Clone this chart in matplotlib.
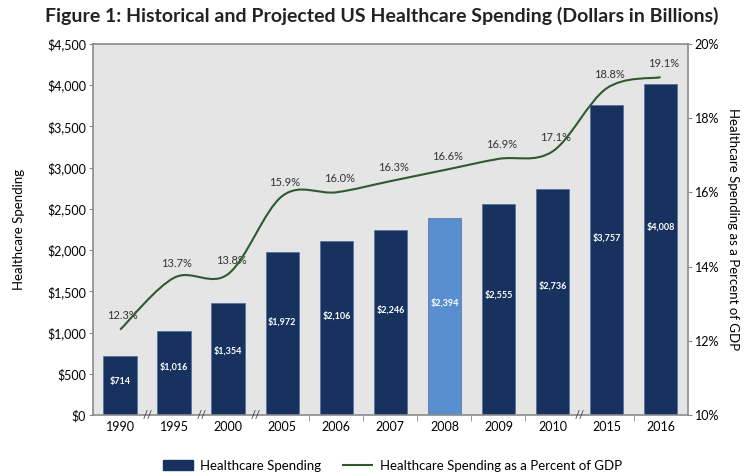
import matplotlib
matplotlib.use("Agg")
import matplotlib.pyplot as plt
import numpy as np
from matplotlib.path import Path
from matplotlib.patches import PathPatch, Patch
from matplotlib.lines import Line2D

plt.rcParams['font.family'] = ['Lato', 'DejaVu Sans']

# data
years = [1990, 1995, 2000, 2005, 2006, 2007, 2008, 2009, 2010, 2015, 2016]
spending = [714, 1016, 1354, 1972, 2106, 2246, 2394, 2555, 2736, 3757, 4008]
pct_gdp = [12.3, 13.7, 13.8, 15.9, 16.0, 16.3, 16.6, 16.9, 17.1, 18.8, 19.1]
highlight_year = 2008

navy = '#17325e'
light = '#5a8fcf'
green = '#2f5a2f'
grid_gray = '#8a8a8a'

fig = plt.figure(figsize=(7.45, 4.76), dpi=100)
ax = fig.add_axes([0.125, 0.128, 0.798, 0.78])
ax.set_facecolor('#e5e5e5')

x = np.arange(len(years))
cols = [light if y == highlight_year else navy for y in years]
bars = ax.bar(x, spending, width=0.62, color=cols, edgecolor='#4f6f9f', linewidth=0.5, zorder=2)

for xi, v in zip(x, spending):
    ax.text(xi, v * 0.57, '${:,}'.format(v), color='white', ha='center', va='center',
            fontsize=6.5, fontweight='bold', zorder=3)

ax.set_xlim(-0.5, len(years) - 0.5)
ax.set_ylim(0, 4500)
ax.set_yticks(np.arange(0, 4501, 500))
ax.set_yticklabels(['${:,}'.format(t) for t in range(0, 4501, 500)], fontsize=9)
ax.set_xticks(x)
ax.set_xticklabels([str(y) for y in years], fontsize=9)
ax.tick_params(axis='x', length=0, pad=4)
ax.tick_params(axis='y', length=3, color=grid_gray, pad=2)
ax.set_ylabel('Healthcare Spending', fontsize=9.5, labelpad=16)

# boundaries: tick where consecutive, "//" where years skip
breaks = [i for i in range(len(years) - 1) if years[i + 1] - years[i] > 1]
normal = [i + 0.5 for i in range(len(years) - 1) if i not in breaks]
ax.set_xticks(normal, minor=True)
ax.tick_params(axis='x', which='minor', length=4, color=grid_gray)
for i in breaks:
    ax.text(i + 0.5, 0, '//', transform=ax.get_xaxis_transform(), ha='center', va='center',
            fontsize=8, color='#333333', zorder=5, clip_on=False)

for s in ax.spines.values():
    s.set_color(grid_gray)
    s.set_linewidth(1.2)

ax2 = ax.twinx()
ax2.set_ylim(10, 20)
ax2.set_yticks(np.arange(10, 21, 2))
ax2.set_yticklabels(['{}%'.format(t) for t in range(10, 21, 2)], fontsize=9)
ax2.tick_params(axis='y', length=3, color=grid_gray, pad=2)
ax2.set_ylabel('Healthcare Spending as a Percent of GDP', fontsize=9.5, rotation=270, labelpad=14)
for s in ax2.spines.values():
    s.set_visible(False)

# smooth curve through the points (Catmull-Rom as cubic Bezier)
px = x.astype(float)
py = np.array(pct_gdp, dtype=float)
verts = [(px[0], py[0])]
codes = [Path.MOVETO]
n = len(px)
for i in range(n - 1):
    p0 = (px[max(i - 1, 0)], py[max(i - 1, 0)])
    p1 = (px[i], py[i])
    p2 = (px[i + 1], py[i + 1])
    p3 = (px[min(i + 2, n - 1)], py[min(i + 2, n - 1)])
    c1 = (p1[0] + (p2[0] - p0[0]) / 6, p1[1] + (p2[1] - p0[1]) / 6)
    c2 = (p2[0] - (p3[0] - p1[0]) / 6, p2[1] - (p3[1] - p1[1]) / 6)
    verts += [c1, c2, p2]
    codes += [Path.CURVE4] * 3
ax2.add_patch(PathPatch(Path(verts, codes), facecolor='none', edgecolor=green, lw=1.5, zorder=4))

for xi, p in zip(x, pct_gdp):
    ax2.annotate('{:.1f}%'.format(p), (xi, p), xytext=(2, 10), textcoords='offset points',
                 ha='center', va='center', fontsize=8, color='#333333')

fig.suptitle('Figure 1: Historical and Projected US Healthcare Spending (Dollars in Billions)',
             x=0.513, y=0.985, fontsize=14, fontweight='bold', color='#222222')

handles = [Patch(facecolor=navy, edgecolor=navy),
           Line2D([0], [0], color=green, lw=1.5)]
fig.legend(handles, ['Healthcare Spending', 'Healthcare Spending as a Percent of GDP'],
           loc='center', bbox_to_anchor=(0.527, 0.022), ncol=2, frameon=False,
           fontsize=9.5, handlelength=2.2, handleheight=0.8, handletextpad=0.6, columnspacing=1.6)

fig.savefig('out.png', dpi=100)
